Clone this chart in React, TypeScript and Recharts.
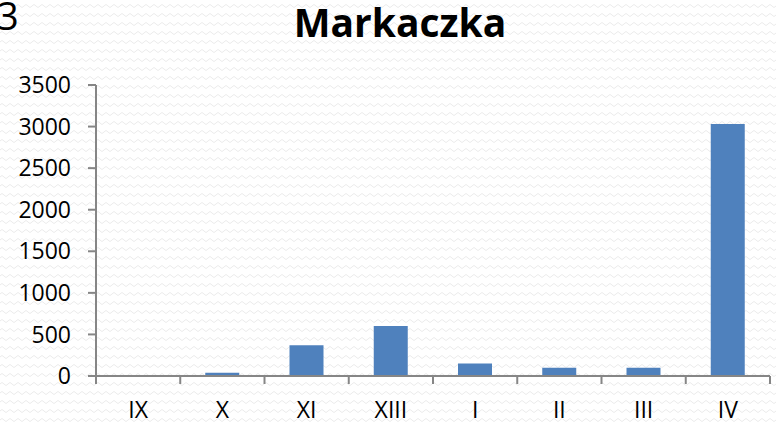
import React from 'react';
import { BarChart, Bar, XAxis, YAxis } from 'recharts';

const categories = ['IX', 'X', 'XI', 'XIII', 'I', 'II', 'III', 'IV'];
const values = [0, 40, 370, 600, 150, 100, 100, 3030];
const yTicks = [0, 500, 1000, 1500, 2000, 2500, 3000, 3500];
const boundaryTicks = [0, 1, 2, 3, 4, 5, 6, 7, 8];

const data = categories.map((c, i) => ({ name: c, value: values[i], pos: i + 0.5 }));

const FONT = '"Open Sans", sans-serif';
const AXIS = '#868686';

const pattern =
  "url(\"data:image/svg+xml;utf8,<svg xmlns='http://www.w3.org/2000/svg' width='8' height='9'><path d='M0 6 Q2 3 4 6 T8 6' fill='none' stroke='%23ebebeb' stroke-width='1'/></svg>\")";

export default function App() {
  return (
    <div
      style={{
        position: 'absolute',
        left: 0,
        top: 0,
        width: 776,
        height: 422,
        backgroundColor: '#ffffff',
        backgroundImage: pattern,
        overflow: 'hidden',
      }}
    >
      <div
        style={{
          position: 'absolute',
          left: -3,
          top: -10,
          fontFamily: FONT,
          fontSize: 38,
          color: '#000',
          lineHeight: '50px',
        }}
      >
        3
      </div>
      <div
        style={{
          position: 'absolute',
          left: 24,
          top: 0,
          width: 752,
          textAlign: 'center',
          fontFamily: FONT,
          fontWeight: 700,
          fontSize: 39,
          lineHeight: '44px',
          color: '#000',
        }}
      >
        Markaczka
      </div>
      <BarChart
        width={776}
        height={422}
        data={data}
        margin={{ top: 85, right: 6, left: 0, bottom: 0 }}
        style={{ position: 'absolute', left: 0, top: 0 }}
      >
        <XAxis
          xAxisId="a_grid"
          type="number"
          dataKey="pos"
          domain={[0, 8]}
          ticks={boundaryTicks}
          height={1}
          stroke={AXIS}
          tickLine={{ stroke: AXIS, strokeWidth: 2 }}
          axisLine={{ stroke: AXIS, strokeWidth: 2 }}
          tickSize={8}
          tickFormatter={() => ''}
          interval={0}
        />
        <XAxis
          xAxisId="b_cat"
          dataKey="name"
          height={45}
          axisLine={false}
          tickLine={false}
          tickSize={0}
          tickMargin={25}
          interval={0}
          tick={{ fill: '#000', fontFamily: FONT, fontSize: 23 }}
        />
        <YAxis
          domain={[0, 3500]}
          ticks={yTicks}
          width={96}
          interval={0}
          axisLine={{ stroke: AXIS, strokeWidth: 2 }}
          tickLine={{ stroke: AXIS, strokeWidth: 2 }}
          tickSize={8}
          tickMargin={17}
          tick={{ fill: '#000', fontFamily: FONT, fontSize: 23 }}
        />
        <Bar
          xAxisId="b_cat"
          dataKey="value"
          fill="#4F81BD"
          barSize={34}
          isAnimationActive={false}
        />
      </BarChart>
    </div>
  );
}
